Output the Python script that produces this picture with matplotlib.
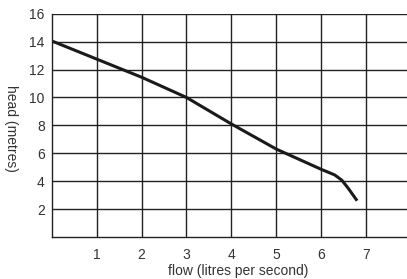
import matplotlib
matplotlib.use("Agg")
import matplotlib.pyplot as plt

flow = [0, 1, 2, 3, 4, 5, 6, 6.3, 6.46, 6.6, 6.8]
head = [14.05, 12.75, 11.45, 10.0, 8.1, 6.3, 4.85, 4.45, 4.07, 3.5, 2.6]
xticks = [1, 2, 3, 4, 5, 6, 7, 8]
yticks = [2, 4, 6, 8, 10, 12, 14, 16]

plt.rcParams['font.family'] = ['Liberation Sans', 'DejaVu Sans']

W, H = 407, 279
fig = plt.figure(figsize=(W / 100, H / 100), dpi=100)
l, r, t, b = 51.7, 411, 13.7, 237
ax = fig.add_axes([l / W, 1 - b / H, (r - l) / W, (b - t) / H])
ax.set_xlim(0, 8)
ax.set_ylim(0, 16)
ax.set_xticks(xticks)
ax.set_yticks(yticks)
ax.grid(True, color='#222222', linewidth=1.0)
ax.set_axisbelow(True)
for s in ['top', 'right']:
    ax.spines[s].set_visible(False)
for s in ['left', 'bottom']:
    ax.spines[s].set_color('#222222')
    ax.spines[s].set_linewidth(1.0)
ax.tick_params(length=0, labelsize=10, colors='#333333')
ax.tick_params(axis='y', pad=5)
ax.tick_params(axis='x', pad=8)
ax.plot(flow, head, color='#1a1a1a', linewidth=2.2, solid_capstyle='butt')
fig.text(238 / W, 1 - 271.5 / H, 'flow (litres per second)', ha='center', va='center',
         fontsize=10, color='#333333')
fig.text(11 / W, 1 - 128.7 / H, 'head (metres)', ha='center', va='center',
         rotation=-90, fontsize=10, color='#333333')
fig.savefig('out.png', dpi=100)
